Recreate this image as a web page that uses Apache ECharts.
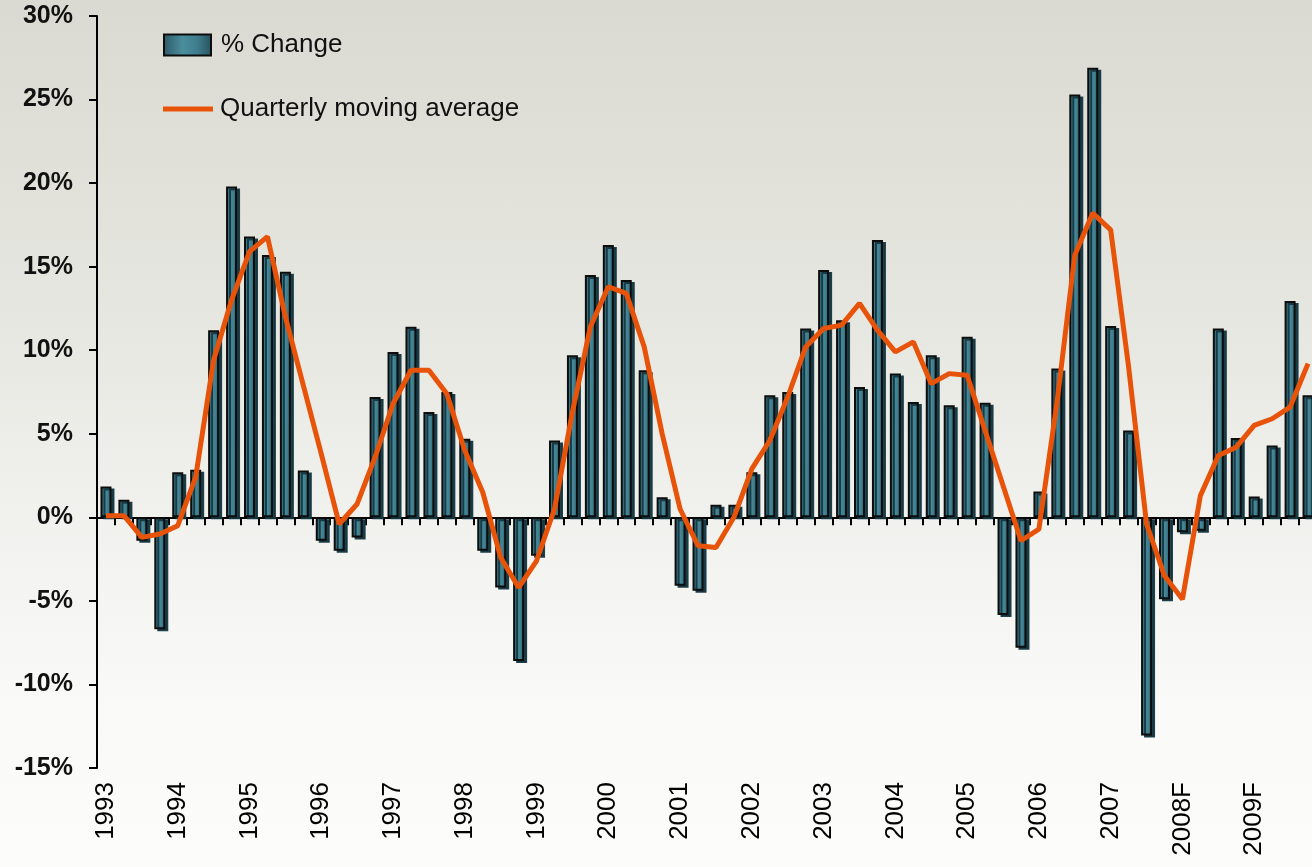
<!DOCTYPE html>
<html>
<head>
<meta charset="utf-8">
<script src="https://cdn.jsdelivr.net/npm/echarts@6/dist/echarts.min.js"></script>
<style>
  html, body { margin: 0; padding: 0; }
  #chart {
    width: 1312px;
    height: 867px;
    background: linear-gradient(to bottom, #dadad2 0%, #e6e6e0 35%, #f1f1ee 60%, #f9f9f7 80%, #fcfcfb 100%);
  }
</style>
</head>
<body>
<div id="chart"></div>
<script>
const years = ["1993", "1994", "1995", "1996", "1997", "1998", "1999", "2000", "2001",
  "2002", "2003", "2004", "2005", "2006", "2007", "2008F", "2009F"];

// quarterly % change (bars)
const pctChange = [
  1.85, 1.05, -1.4, -6.7,
  2.7, 2.85, 11.2, 19.8,
  16.8, 15.7, 14.7, 2.8,
  -1.4, -2.0, -1.2, 7.2,
  9.9, 11.4, 6.3, 7.5,
  4.7, -2.0, -4.2, -8.6,
  -2.3, 4.6, 9.7, 14.5,
  16.3, 14.2, 8.8, 1.2,
  -4.1, -4.4, 0.75, 0.75,
  2.7, 7.3, 7.5, 11.3,
  14.8, 11.8, 7.8, 16.6,
  8.6, 6.9, 9.7, 6.7,
  10.8, 6.85, -5.85, -7.8,
  1.55, 8.9, 25.3, 26.9,
  11.45, 5.2, -13.05, -4.9,
  -0.9, -0.8, 11.3, 4.75,
  1.25, 4.3, 12.95, 7.3
];

// quarterly moving average (line)
const movingAvg = [
  0.1, 0.1, -1.2, -1.0,
  -0.5, 2.4, 9.4, 13.0,
  15.9, 16.8, 12.0, 7.9,
  3.8, -0.4, 0.8, 3.6,
  6.8, 8.8, 8.8, 7.4,
  4.0, 1.5, -2.4, -4.2,
  -2.6, 0.5, 6.3, 11.4,
  13.8, 13.4, 10.2, 5.0,
  0.5, -1.7, -1.8, 0.0,
  2.9, 4.6, 7.2, 10.2,
  11.3, 11.5, 12.8, 11.2,
  9.9, 10.5, 8.0, 8.6,
  8.5, 5.2, 1.9, -1.4,
  -0.7, 6.8, 15.7, 18.2,
  17.2, 9.0, -0.4, -3.5,
  -4.9, 1.3, 3.7, 4.2,
  5.5, 5.9, 6.6, 9.2
];

const yTicks = { min: -15, max: 30, step: 5 };

// one category per quarter, year shown on Q1
const quarters = [];
years.forEach((y) => {
  for (let q = 1; q <= 4; q++) quarters.push(y + " Q" + q);
});

const font = "'Liberation Sans', Arial, sans-serif";

const barFill = new echarts.graphic.LinearGradient(0, 0, 1, 0, [
  { offset: 0, color: "#2c5864" },
  { offset: 0.4, color: "#4b8e9d" },
  { offset: 0.7, color: "#3e7d8d" },
  { offset: 1, color: "#28515c" },
]);

const chart = echarts.init(document.getElementById("chart"));
chart.setOption({
  animation: false,
  grid: { left: 97, right: -5, top: 16, bottom: 99, outerBoundsMode: "none", containLabel: false },
  legend: [
    {
      data: [{ name: "% Change", icon: "rect" }],
      left: 163,
      top: 32,
      padding: 0,
      itemWidth: 47,
      itemHeight: 21,
      textStyle: { fontFamily: font, fontSize: 26, color: "#111", padding: [13, 0, 0, 5] },
      selectedMode: false,
    },
    {
      data: [{ name: "Quarterly moving average", icon: "path://M0,0L50,0L50,5L0,5Z" }],
      left: 163,
      top: 96,
      padding: 0,
      itemWidth: 50,
      itemHeight: 5,
      textStyle: { fontFamily: font, fontSize: 26, color: "#111", padding: [9, 0, 0, 2] },
      selectedMode: false,
    },
  ],
  xAxis: [
    {
      type: "category",
      data: quarters,
      axisLine: { onZero: true, lineStyle: { color: "#000", width: 2 } },
      axisTick: { show: true, interval: 0, length: 8, lineStyle: { color: "#000", width: 2 } },
      axisLabel: { show: false },
    },
    {
      type: "category",
      data: quarters,
      position: "bottom",
      axisLine: { show: false, onZero: false },
      axisTick: { show: false },
      axisLabel: {
        interval: 3,
        rotate: 90,
        margin: 14,
        fontFamily: font,
        fontSize: 26,
        color: "#000",
        formatter: (v) => v.split(" ")[0],
      },
    },
  ],
  yAxis: {
    type: "value",
    min: yTicks.min,
    max: yTicks.max,
    interval: yTicks.step,
    splitLine: { show: false },
    axisLine: { show: true, lineStyle: { color: "#000", width: 2 } },
    axisTick: { show: true, length: 8, lineStyle: { color: "#000", width: 2 } },
    axisLabel: {
      margin: 24,
      fontFamily: font,
      fontWeight: "bold",
      fontSize: 25,
      color: "#111",
      formatter: "{value}%",
    },
  },
  series: [
    {
      name: "% Change",
      type: "bar",
      xAxisIndex: 0,
      data: pctChange,
      barWidth: 11,
      itemStyle: {
        color: barFill,
        borderColor: "#0d0d0d",
        borderWidth: 2,
        shadowColor: "rgba(20, 55, 65, 0.95)",
        shadowOffsetX: 3,
        shadowOffsetY: 2,
        shadowBlur: 0,
      },
    },
    {
      name: "Quarterly moving average",
      type: "line",
      xAxisIndex: 0,
      data: movingAvg,
      symbol: "none",
      lineStyle: { color: "#e8530a", width: 5 },
      itemStyle: { color: "#e8530a" },
      z: 5,
    },
  ],
});
</script>
</body>
</html>
